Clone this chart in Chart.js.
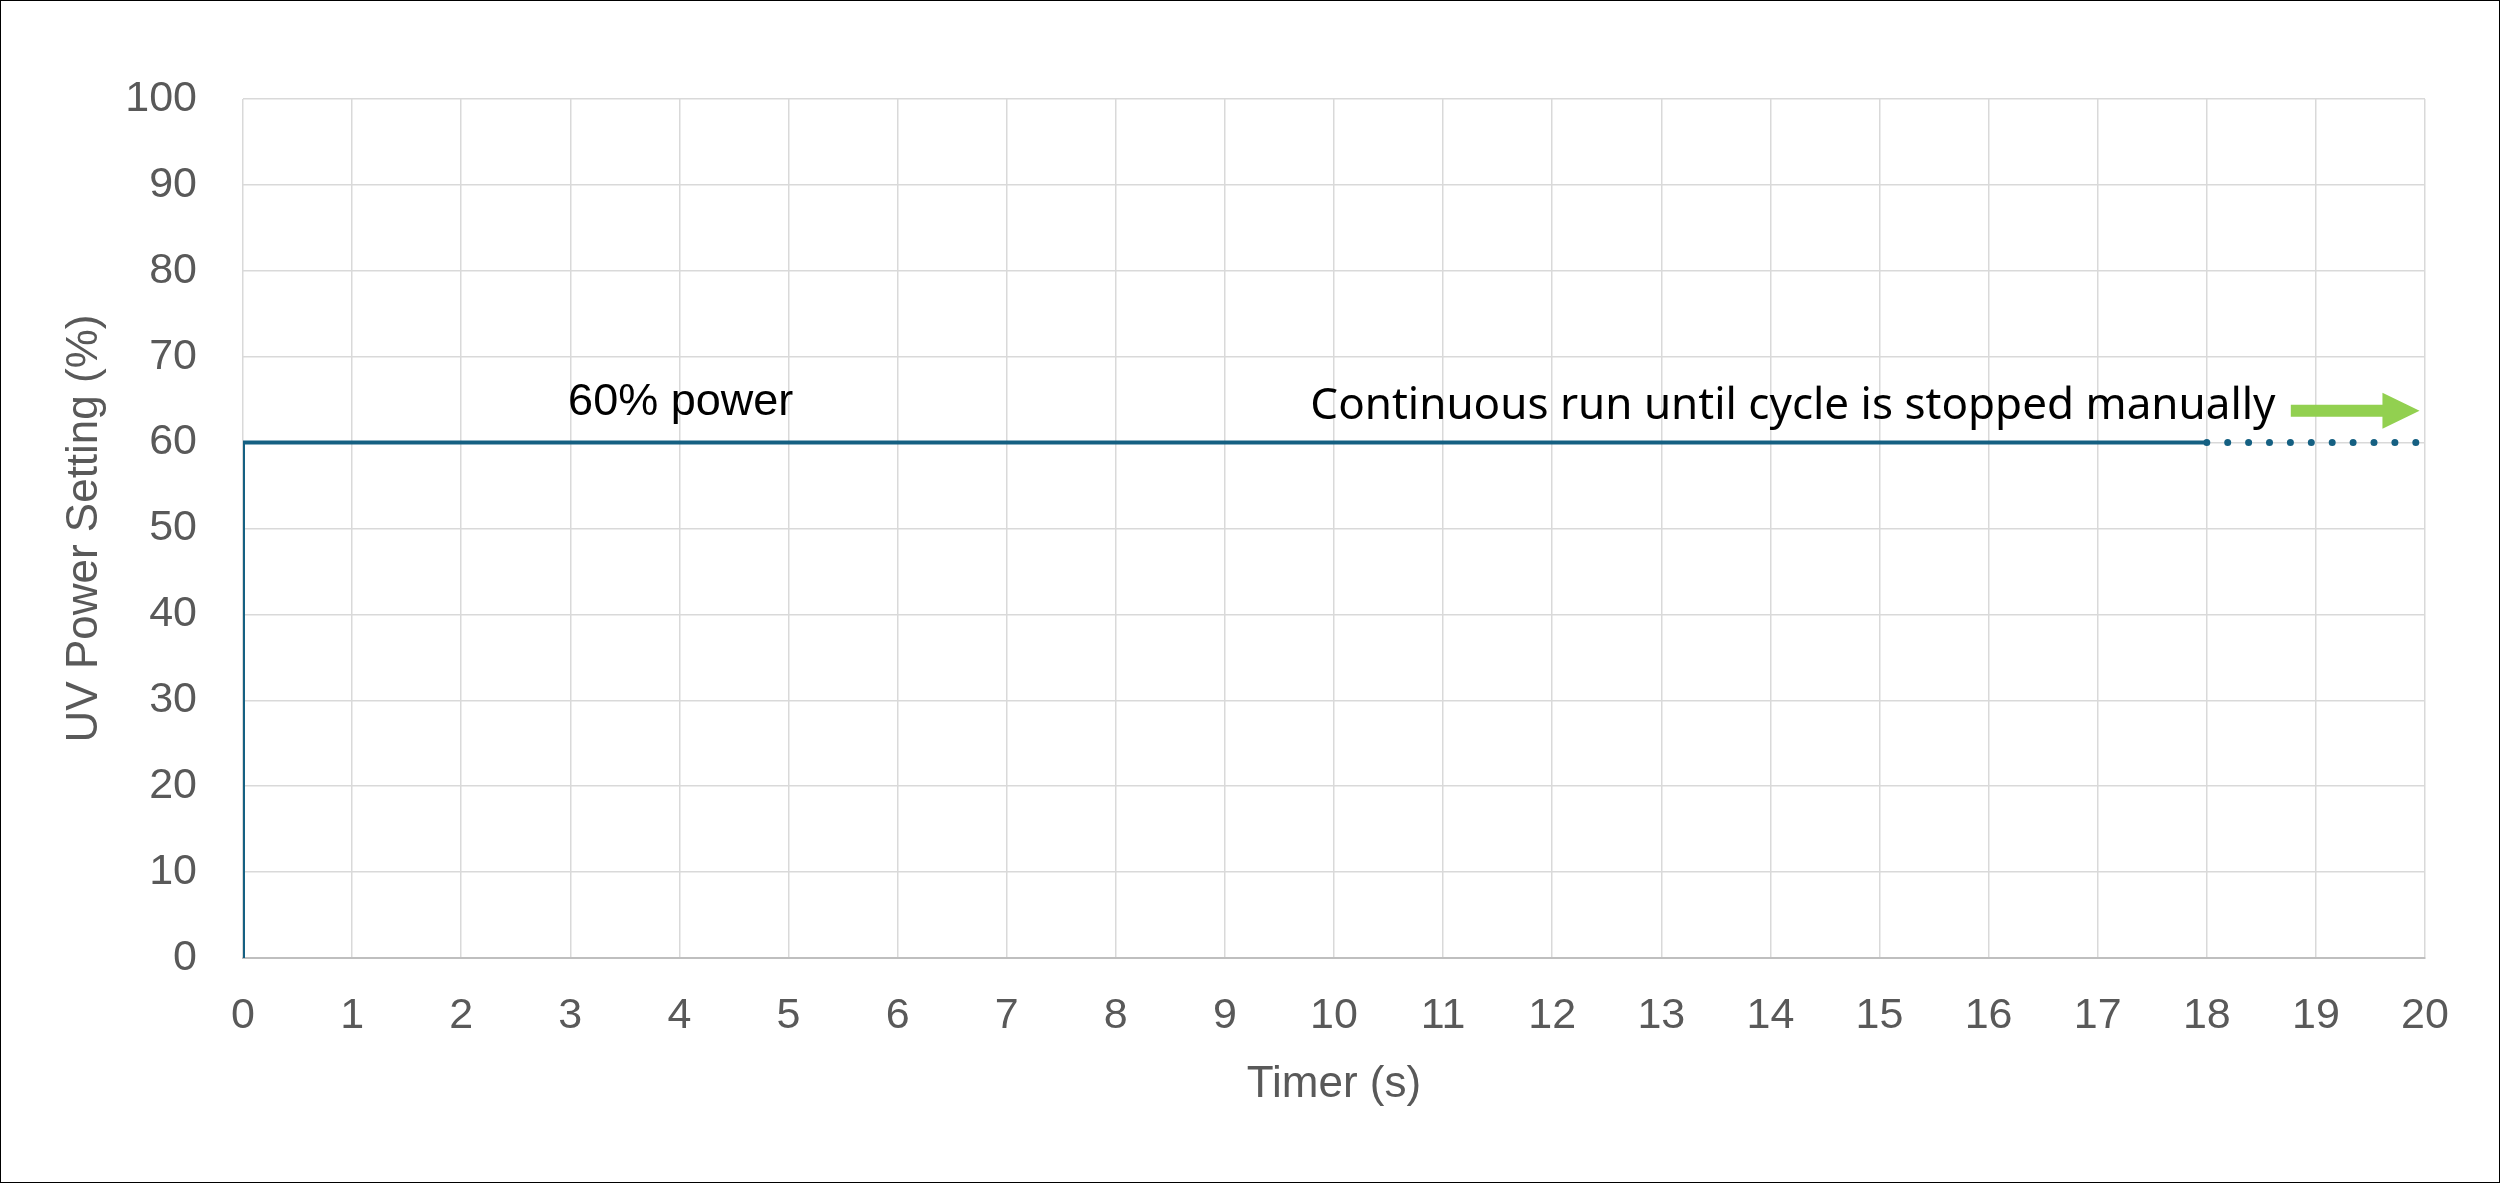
<!DOCTYPE html>
<html>
<head>
<meta charset="utf-8">
<script src="https://cdn.jsdelivr.net/npm/chart.js@4/dist/chart.umd.min.js"></script>
<style>
  body { margin: 0; background: #fff; }
  canvas { display: block; }
</style>
</head>
<body>
<canvas id="uvChart" width="2500" height="1183"></canvas>
<script>
// solid run: ramp up at t=0 then hold at 60%
var timeSolid = [0, 0, 18];
var powerSolid = [0, 60, 60];
// continuous part, dotted
var timeDotted = [18, 20];
var powerDotted = [60, 60];

var xTicks = [0, 20, 1];   // min, max, step
var yTicks = [0, 100, 10];

var label60 = "60% power";
var labelRun = "Continuous run until cycle is stopped manually";

function toPoints(xs, ys) {
  var pts = [];
  for (var i = 0; i < xs.length; i++) {
    pts.push({x: xs[i], y: ys[i]});
  }
  return pts;
}

var lineColor = "#156082";
var tickColor = "#595959";

// texts + green arrow + outer frame
var notesPlugin = {
  id: 'notes',
  afterDraw: function(chart) {
    var ctx = chart.ctx;
    var xs = chart.scales.x, ys = chart.scales.y;
    ctx.save();

    ctx.fillStyle = "#000";
    ctx.textBaseline = "alphabetic";
    ctx.textAlign = "left";
    ctx.font = "45px 'Liberation Sans'";
    ctx.fillText(label60, xs.getPixelForValue(2.98), ys.getPixelForValue(63.2));

    ctx.textAlign = "right";
    ctx.font = "44px 'Noto Sans'";
    ctx.fillText(labelRun, xs.getPixelForValue(18.63), ys.getPixelForValue(62.7));

    // arrow
    var x0 = xs.getPixelForValue(18.77);
    var xh = xs.getPixelForValue(19.61);
    var x1 = xs.getPixelForValue(19.95);
    var yc = ys.getPixelForValue(63.7);
    ctx.fillStyle = "#92d050";
    ctx.beginPath();
    ctx.moveTo(x0, yc - 6);
    ctx.lineTo(xh, yc - 6);
    ctx.lineTo(xh, yc - 18);
    ctx.lineTo(x1, yc);
    ctx.lineTo(xh, yc + 18);
    ctx.lineTo(xh, yc + 6);
    ctx.lineTo(x0, yc + 6);
    ctx.closePath();
    ctx.fill();

    ctx.strokeStyle = "#000";
    ctx.lineWidth = 1;
    ctx.strokeRect(0.5, 0.5, chart.width - 1, chart.height - 1);
    ctx.restore();
  }
};

var ctx = document.getElementById('uvChart');
var myChart = new Chart(ctx, {
  type: 'scatter',
  data: {
    datasets: [{
      data: toPoints(timeSolid, powerSolid),
      showLine: true,
      borderColor: lineColor,
      borderWidth: 4,
      pointRadius: 0,
      tension: 0
    }, {
      data: toPoints(timeDotted, powerDotted),
      showLine: true,
      borderColor: lineColor,
      borderWidth: 7,
      borderDash: [0, 20.9],
      borderCapStyle: 'round',
      pointRadius: 0,
      tension: 0
    }]
  },
  options: {
    responsive: false,
    animation: false,
    devicePixelRatio: 1,
    layout: {
      padding: { top: 99, right: 75, left: 0, bottom: 0 }
    },
    plugins: {
      legend: { display: false },
      tooltip: { enabled: false }
    },
    scales: {
      x: {
        type: 'linear',
        min: xTicks[0],
        max: xTicks[1],
        afterFit: function(s) { s.height = 225; },
        ticks: {
          stepSize: xTicks[2],
          color: tickColor,
          padding: 32,
          font: { family: "'Liberation Sans'", size: 43 }
        },
        grid: { color: "#d9d9d9", lineWidth: 1.5, drawTicks: false },
        border: { color: "#bfbfbf", width: 2 },
        title: {
          display: true,
          text: "Timer (s)",
          color: tickColor,
          font: { family: "'Liberation Sans'", size: 44 },
          padding: { top: 0, bottom: 72 }
        }
      },
      y: {
        min: yTicks[0],
        max: yTicks[1],
        afterFit: function(s) { s.width = 243; },
        ticks: {
          stepSize: yTicks[2],
          color: tickColor,
          padding: 46,
          font: { family: "'Liberation Sans'", size: 43 }
        },
        grid: { color: "#d9d9d9", lineWidth: 1.5, drawTicks: false },
        border: { display: false },
        title: {
          display: true,
          text: "UV Power Setting (%)",
          color: tickColor,
          font: { family: "'Liberation Sans'", size: 44 },
          padding: { top: 58, bottom: 0 }
        }
      }
    }
  },
  plugins: [notesPlugin]
});
</script>
</body>
</html>
